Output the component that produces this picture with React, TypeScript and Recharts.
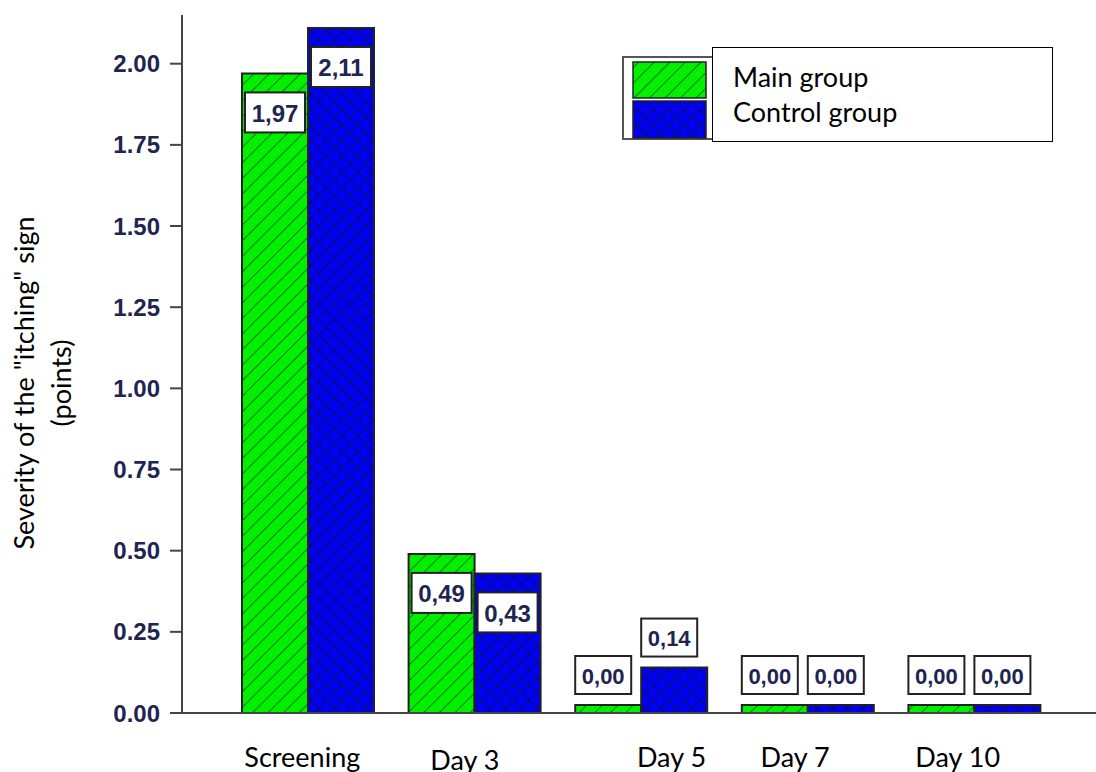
import React from 'react';
import { BarChart, Bar, XAxis, YAxis, Legend } from 'recharts';

const days = ['Screening', 'Day 3', 'Day 5', 'Day 7', 'Day 10'];
const mainGroup = [1.97, 0.49, 0.0, 0.0, 0.0];
const controlGroup = [2.11, 0.43, 0.14, 0.0, 0.0];
const yTicks = [0, 0.25, 0.5, 0.75, 1.0, 1.25, 1.5, 1.75, 2.0];

const data = days.map((day, i) => ({ day, main: mainGroup[i], control: controlGroup[i] }));

const tickColor = '#1e2550';
const textFont = 'Lato, "Open Sans", sans-serif';
const numFont = '"Liberation Sans", Arial, sans-serif';

// the category labels in the original are not centred under their groups
const tickShift: Record<string, [number, number]> = {
  Screening: [-6, 0],
  'Day 3': [-10, 3],
  'Day 5': [30, 0],
  'Day 7': [-13, 0],
  'Day 10': [-17, 0],
};

const CategoryTick = (props: any) => {
  const { x, y, payload } = props;
  const [dx, dy] = tickShift[payload.value] || [0, 0];
  return (
    <text x={x + dx} y={y + 54 + dy} textAnchor="middle" fontFamily={textFont} fontSize={27} fill="#000">
      {payload.value}
    </text>
  );
};

const ValueLabel = (props: any) => {
  const { x, y, value } = props;
  const big = value >= 0.3;
  const w = big ? 60 : 56;
  const h = big ? 40 : 38;
  const bx = big ? x + 3 : x;
  const by = big ? y + 19 : y - 11 - h;
  return (
    <g>
      <rect x={bx} y={by} width={w} height={h} fill="#fff" stroke="#222" strokeWidth={2} />
      <text
        x={bx + w / 2}
        y={by + h / 2 + 1}
        textAnchor="middle"
        dominantBaseline="central"
        fontFamily={numFont}
        fontWeight="bold"
        fontSize={big ? 24 : 22}
        fill={tickColor}
      >
        {Number(value).toFixed(2).replace('.', ',')}
      </text>
    </g>
  );
};

const AxisTitle = () => {
  const cy = 383;
  return (
    <g fontFamily={textFont} fontSize={27} fill="#000">
      <text x={23} y={cy} textAnchor="middle" dominantBaseline="central" transform={`rotate(-90, 23, ${cy})`}>
        Severity of the "itching" sign
      </text>
      <text x={60} y={cy} textAnchor="middle" dominantBaseline="central" transform={`rotate(-90, 60, ${cy})`}>
        (points)
      </text>
    </g>
  );
};

const LegendBox = () => (
  <svg width={432} height={96} style={{ display: 'block' }}>
    <rect x={1} y={10} width={92} height={82} fill="#fff" stroke="#555" strokeWidth={2} />
    <rect x={11} y={15} width={73} height={36} fill="url(#hatchGreen)" stroke="#222" strokeWidth={1.5} />
    <rect x={11} y={54} width={73} height={37} fill="url(#crossBlue)" stroke="#222" strokeWidth={1.5} />
    <rect x={90.5} y={0.5} width={340} height={94} fill="#fff" stroke="#000" strokeWidth={1} />
    <text x={111} y={40} fontFamily={textFont} fontSize={27} fill="#000">Main group</text>
    <text x={111} y={75} fontFamily={textFont} fontSize={27} fill="#000">Control group</text>
  </svg>
);

export default function App() {
  return (
    <div style={{ position: 'absolute', left: 0, top: 0, background: '#fff' }}>
      <BarChart
        width={1096}
        height={772}
        data={data}
        margin={{ top: 15, right: 0, bottom: 0, left: 0 }}
        barGap={0}
        barSize={66}
      >
        <defs>
          <pattern id="hatchGreen" patternUnits="userSpaceOnUse" width={11} height={11} patternTransform="rotate(45)">
            <rect width={11} height={11} fill="#00f000" />
            <line x1={0} y1={0} x2={0} y2={11} stroke="#1a4a1a" strokeWidth={1.5} />
          </pattern>
          <pattern id="crossBlue" patternUnits="userSpaceOnUse" width={11} height={11} patternTransform="rotate(45)">
            <rect width={11} height={11} fill="#0000f5" />
            <line x1={0} y1={0} x2={0} y2={11} stroke="#101040" strokeWidth={1.5} />
            <line x1={0} y1={0} x2={11} y2={0} stroke="#101040" strokeWidth={1.5} />
          </pattern>
        </defs>
        <XAxis
          dataKey="day"
          height={59}
          padding={{ left: 43, right: 38 }}
          axisLine={{ stroke: '#444', strokeWidth: 2 }}
          tickLine={false}
          tickSize={0}
          tickMargin={0}
          interval={0}
          tick={<CategoryTick />}
        />
        <YAxis
          width={182}
          domain={[0, 2.15]}
          ticks={yTicks}
          interval={0}
          allowDataOverflow
          tickFormatter={(v: number) => v.toFixed(2)}
          tickSize={12}
          tickMargin={10}
          axisLine={{ stroke: '#444', strokeWidth: 2 }}
          tickLine={{ stroke: '#444', strokeWidth: 2 }}
          tick={{ fill: tickColor, fontFamily: numFont, fontWeight: 'bold', fontSize: 24 }}
          label={<AxisTitle />}
        />
        <Legend
          layout="vertical"
          align="center"
          verticalAlign="middle"
          content={<LegendBox />}
          wrapperStyle={{ left: 622, top: 47, width: 432, height: 96 }}
        />
        <Bar
          dataKey="main"
          name="Main group"
          fill="url(#hatchGreen)"
          stroke="#222"
          strokeWidth={2}
          minPointSize={8}
          isAnimationActive={false}
          label={<ValueLabel />}
        />
        <Bar
          dataKey="control"
          name="Control group"
          fill="url(#crossBlue)"
          stroke="#222"
          strokeWidth={2}
          minPointSize={8}
          isAnimationActive={false}
          label={<ValueLabel />}
        />
      </BarChart>
    </div>
  );
}
